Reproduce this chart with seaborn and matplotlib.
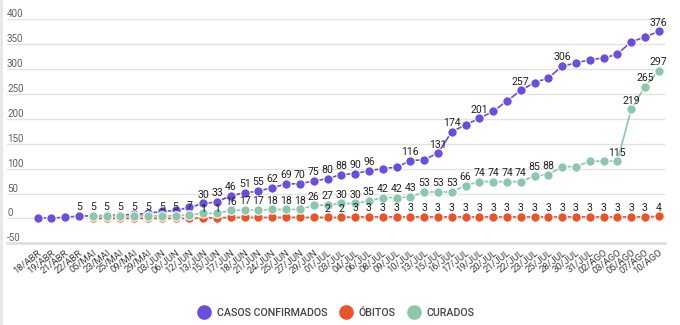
import numpy as np
import pandas as pd
import seaborn as sns
import matplotlib.pyplot as plt
from matplotlib.lines import Line2D

# Dates (categorical x axis, in the order they were reported)
datas = ["18/ABR", "19/ABR", "21/ABR", "22/ABR", "05/MAI", "23/MAI", "25/MAI", "09/MAI",
         "29/MAI", "03/JUN", "06/JUN", "12/JUN", "13/JUN", "15/JUN", "17/JUN", "18/JUN",
         "21/JUN", "24/JUN", "25/JUN", "27/JUN", "29/JUN", "01/JUL", "03/JUL", "04/JUL",
         "06/JUL", "08/JUL", "09/JUL", "10/JUL", "13/JUL", "15/JUL", "16/JUL", "17/JUL",
         "19/JUL", "20/JUL", "21/JUL", "22/JUL", "23/JUL", "25/JUL", "28/JUL", "30/JUL",
         "31/JUL", "02/AGO", "03/AGO", "05/AGO", "07/AGO", "10/AGO"]

casos_confirmados = [1, 1, 2, 5, 5, 6, 7, 8, 10, 14, 16, 22, 30, 33, 46, 51,
                     55, 62, 69, 70, 75, 80, 88, 90, 96, 100, 103, 116, 118, 131, 174, 188,
                     201, 215, 236, 257, 273, 282, 306, 312, 319, 322, 330, 355, 364, 376]

obitos = [np.nan, np.nan, np.nan, np.nan, 0, 0, 0, 0, 0, 0, 0, 0, 1, 1, 2, 2,
          2, 2, 2, 2, 2, 2, 2, 3, 3, 3, 3, 3, 3, 3, 3, 3,
          3, 3, 3, 3, 3, 3, 3, 3, 3, 3, 3, 3, 3, 4]

curados = [np.nan, np.nan, np.nan, np.nan, 5, 5, 5, 5, 5, 5, 5, 7, 10, 10, 16, 17,
           17, 18, 18, 18, 26, 27, 30, 30, 35, 42, 42, 43, 53, 53, 53, 66,
           74, 74, 74, 74, 85, 88, 104, 104, 115, 115, 115, 219, 265, 297]

# Which points carry a value label (the rest overlap and are left unlabelled)
rotulos_casos = [3, 12, 13] + list(range(14, 25)) + [27, 29, 30, 32, 35, 38, 45]
rotulos_obitos = [12, 13] + list(range(21, 46))
rotulos_curados = list(range(4, 12)) + list(range(14, 38)) + [42, 43, 44, 45]

series = ["CASOS CONFIRMADOS", "ÓBITOS", "CURADOS"]
cores = {"CASOS CONFIRMADOS": "#6a4fd8", "ÓBITOS": "#e8532b", "CURADOS": "#8cc7ab"}

pos = np.arange(len(datas))
df = pd.concat([
    pd.DataFrame({"pos": pos, "valor": casos_confirmados, "serie": series[0]}),
    pd.DataFrame({"pos": pos, "valor": obitos, "serie": series[1]}),
    pd.DataFrame({"pos": pos, "valor": curados, "serie": series[2]}),
], ignore_index=True)

sns.set_theme(style="white")
plt.rcParams["font.family"] = ["Roboto", "DejaVu Sans"]

fig = plt.figure(figsize=(6.8, 3.25), dpi=100)
W, H = 680, 325
ax = fig.add_axes([7 / W, (H - 243.3) / H, (665 - 7) / W, (243.3 - 19.3) / H])

sns.lineplot(data=df, x="pos", y="valor", hue="serie", hue_order=series,
             palette=cores, marker="o", markersize=6.8, markeredgecolor="white",
             markeredgewidth=0.8, linewidth=1.2, legend=False, ax=ax, zorder=3)

# value labels
for vals, idxs in ((casos_confirmados, rotulos_casos),
                   (obitos, rotulos_obitos),
                   (curados, rotulos_curados)):
    for i in idxs:
        ax.annotate(f"{int(vals[i])}", (pos[i], vals[i]), xytext=(0, 6.2),
                    textcoords="offset points", ha="center", va="center",
                    fontsize=7.6, color="#222222", zorder=6, annotation_clip=False)

ax.set_xlim(-2.22, 45.45)
ax.set_ylim(-50, 400)
ax.set_xlabel("")
ax.set_ylabel("")

# y axis: labels inside the plot, sitting on the gridlines
yticks = [-50, 0, 50, 100, 150, 200, 250, 300, 350, 400]
ax.set_yticks(yticks)
ax.tick_params(axis="y", length=0, pad=0)
ax.set_yticklabels([str(t) for t in yticks], ha="left", va="bottom",
                   fontsize=7.1, color="#616161")
ax.yaxis.grid(True, color="#e2e2e2", linewidth=1.0)
ax.xaxis.grid(False)

ax.set_xticks(pos)
ax.tick_params(axis="x", length=0, pad=3.5)
ax.set_xticklabels(datas, rotation=38, ha="right", va="top", rotation_mode="anchor",
                   fontsize=6.8, color="#3c3c3c")

for s in ("top", "right", "left"):
    ax.spines[s].set_visible(False)
ax.spines["bottom"].set_color("#dcdcdc")
ax.spines["bottom"].set_linewidth(1.8)

handles = [Line2D([], [], linestyle="none", marker="o", markersize=9.5,
                  markerfacecolor=cores[s], markeredgecolor=cores[s]) for s in series]
leg = fig.legend(handles, series, loc="center", bbox_to_anchor=(336 / W, (H - 313) / H),
                 ncol=3, frameon=False, fontsize=7.7, handlelength=1.3, handletextpad=0.55,
                 columnspacing=1.05, labelcolor="#444444")
for t in leg.get_texts():
    t.set_fontweight("medium")

fig.add_artist(Line2D([1 / W, 1 / W], [0, 1], color="#e6e6e6", linewidth=2,
                      transform=fig.transFigure))

fig.savefig("out.png", dpi=100, facecolor="white")
